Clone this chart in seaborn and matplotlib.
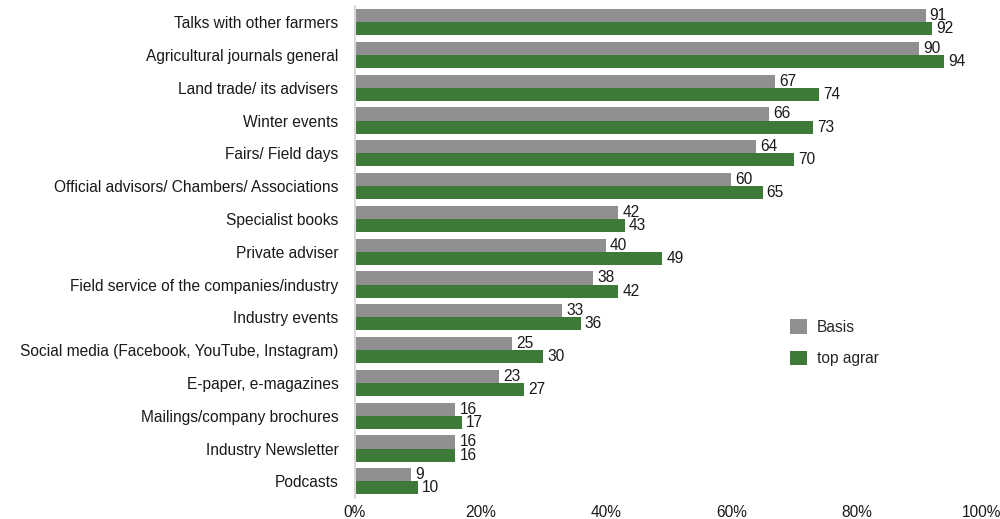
import pandas as pd
import matplotlib.pyplot as plt
import seaborn as sns

# sources and shares (%)
sources = ["Talks with other farmers", "Agricultural journals general",
           "Land trade/ its advisers", "Winter events", "Fairs/ Field days",
           "Official advisors/ Chambers/ Associations", "Specialist books",
           "Private adviser", "Field service of the companies/industry",
           "Industry events", "Social media (Facebook, YouTube, Instagram)",
           "E-paper, e-magazines", "Mailings/company brochures",
           "Industry Newsletter", "Podcasts"]
basis = [91, 90, 67, 66, 64, 60, 42, 40, 38, 33, 25, 23, 16, 16, 9]
top_agrar = [92, 94, 74, 73, 70, 65, 43, 49, 42, 36, 30, 27, 17, 16, 10]
groups = ["Basis", "top agrar"]
colors = ["#8f8f92", "#3e7a37"]

df = pd.DataFrame({"source": sources * 2,
                   "value": basis + top_agrar,
                   "group": [groups[0]] * len(sources) + [groups[1]] * len(sources)})

sns.set_style("white")
plt.rcParams['font.family'] = ['Liberation Sans', 'DejaVu Sans']
fs = 11.2

fig, ax = plt.subplots(figsize=(10, 5.19), dpi=100)
fig.subplots_adjust(left=0.355, right=0.982, top=0.989, bottom=0.041)

sns.barplot(data=df, y="source", x="value", hue="group", palette=colors,
            orient="h", width=0.8, gap=0.0, ax=ax, saturation=1,
            linewidth=0)

for cont in ax.containers:
    ax.bar_label(cont, padding=3, fontsize=fs, color="#1a1a1a")

ax.set_xlim(0, 100)
ax.set_xticks([0, 20, 40, 60, 80, 100])
ax.set_xticklabels([f"{t}%" for t in [0, 20, 40, 60, 80, 100]])
ax.set_xlabel("")
ax.set_ylabel("")
ax.tick_params(axis="y", length=0, pad=12, labelsize=fs, labelcolor="#1a1a1a")
ax.tick_params(axis="x", length=0, pad=5, labelsize=fs, labelcolor="#1a1a1a")

for s in ["top", "right", "bottom"]:
    ax.spines[s].set_visible(False)
ax.spines["left"].set_color("#d9d9d9")
ax.spines["left"].set_linewidth(1.5)

ax.legend(title=None, frameon=False, loc="center left",
          bbox_to_anchor=(0.672, 0.315), fontsize=fs,
          handlelength=1.1, handleheight=1.1, labelspacing=1.0,
          handletextpad=0.6)

plt.savefig("out.png", dpi=100)
